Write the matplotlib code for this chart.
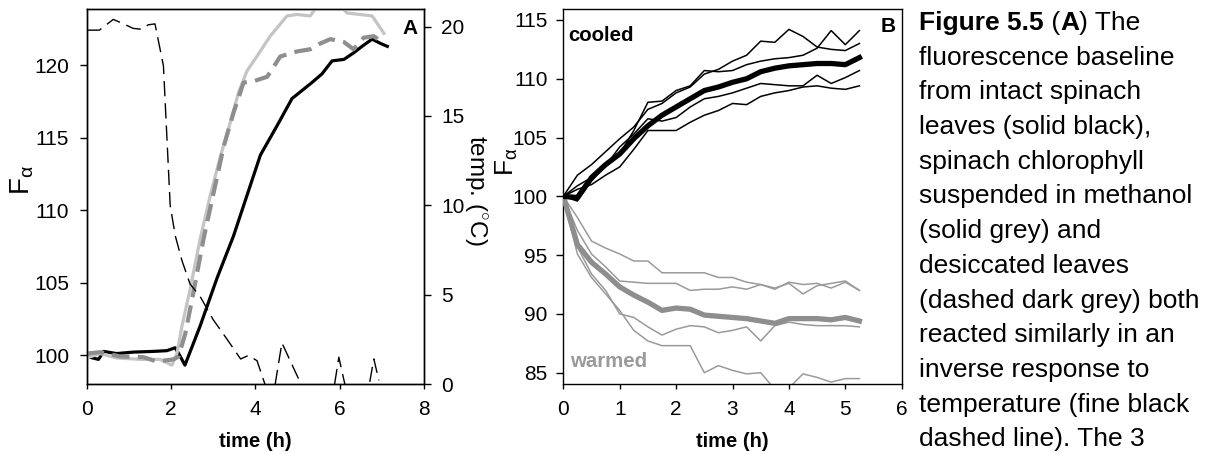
import matplotlib
matplotlib.use('Agg')
import matplotlib.pyplot as plt

plt.rcParams['font.family'] = ['Liberation Sans', 'DejaVu Sans']
plt.rcParams['mathtext.fontset'] = 'custom'
plt.rcParams['mathtext.rm'] = 'Liberation Sans'
plt.rcParams['mathtext.it'] = 'Liberation Sans:italic'
plt.rcParams['mathtext.bf'] = 'Liberation Sans:bold'

# ---------------- Panel A data ----------------
leaf_t = [0, 0.28, 0.4, 0.71, 1.1, 1.58, 1.9, 2.1, 2.22, 2.33, 2.69, 3.09, 3.48, 3.8,
          4.12, 4.51, 4.87, 5.34, 5.58, 5.82, 6.1, 6.33, 6.53, 6.77, 6.97, 7.13]
leaf_f = [99.9, 99.7, 100.25, 100.1, 100.2, 100.25, 100.3, 100.5, 99.9, 99.3, 102.0, 105.3,
          108.2, 111.0, 113.8, 115.8, 117.7, 118.8, 119.4, 120.3, 120.4, 120.85, 121.3,
          121.8, 121.5, 121.3]

meoh_t = [0, 0.32, 0.71, 1.27, 1.74, 2.02, 2.14, 2.26, 2.45, 2.69, 2.93, 3.17, 3.4, 3.6,
          3.8, 4.08, 4.35, 4.75, 4.99, 5.3, 5.6, 5.85, 6.18, 6.77, 7.05]
meoh_f = [99.8, 100.1, 99.8, 99.7, 99.7, 99.3, 100.1, 102.0, 104.5, 108.0, 111.0, 113.7,
          116.0, 118.1, 119.6, 120.8, 122.0, 123.4, 123.5, 123.4, 124.6, 124.5, 123.6,
          123.4, 122.2]

dry_t = [0, 0.32, 0.79, 1.35, 1.66, 2.06, 2.18, 2.34, 2.53, 2.77, 3.01, 3.25, 3.48, 3.72,
         3.96, 4.28, 4.59, 4.99, 5.3, 5.54, 5.78, 6.1, 6.33, 6.57, 6.81, 7.0]
dry_f = [100.1, 100.2, 99.9, 99.85, 99.55, 99.7, 99.9, 101.5, 104.3, 108.0, 111.2, 114.4,
         116.7, 118.8, 118.9, 119.2, 120.6, 120.95, 121.1, 121.5, 121.8, 121.6, 121.1,
         121.9, 122.0, 121.6]

temp_t = [0, 0.3, 0.63, 0.83, 1.1, 1.3, 1.46, 1.62, 1.82, 1.98, 2.1, 2.26, 2.45, 2.69,
          3.0, 3.33, 3.65, 3.84, 4.04, 4.24, 4.45, 4.63, 5.2, 5.86, 5.98, 6.15, 6.69,
          6.81, 6.93]
temp_c = [19.8, 19.8, 20.4, 20.2, 19.9, 19.85, 20.1, 20.15, 17.8, 10.0, 8.3, 6.9, 5.6,
          4.9, 3.6, 2.5, 1.4, 1.6, 1.3, -0.1, -0.3, 2.3, -0.6, -0.3, 1.5, -0.3, -0.2,
          1.4, 0.2]

# ---------------- Panel B data ----------------
b_t = [0, 0.25, 0.5, 0.75, 1, 1.25, 1.5, 1.75, 2, 2.25, 2.5, 2.75, 3, 3.25, 3.5, 3.75,
       4, 4.25, 4.5, 4.75, 5, 5.25]

cooled_1 = [100, 101.8, 102.7, 103.8, 104.9, 105.9, 107.4, 107.9, 108.8, 109.3, 110.4,
            110.8, 111.5, 112.0, 113.2, 113.1, 114.2, 113.6, 112.7, 112.5, 112.4, 113.0]
cooled_2 = [100, 100.9, 101.6, 102.6, 103.6, 105.6, 108.0, 108.1, 109.0, 109.4, 110.7,
            110.6, 110.7, 111.2, 111.5, 111.7, 111.8, 112.0, 112.6, 114.1, 112.9, 114.1]
cooled_3 = [100, 99.6, 101.3, 102.6, 104.2, 105.3, 106.6, 106.4, 106.7, 107.6, 108.3,
            108.5, 108.8, 109.2, 109.6, 109.5, 109.4, 109.4, 110.3, 109.6, 110.1, 110.7]
cooled_4 = [100, 100.6, 101.0, 101.8, 102.5, 104.0, 105.6, 105.6, 105.6, 106.3, 106.9,
            107.3, 107.9, 107.8, 108.5, 108.8, 109.0, 109.3, 109.4, 109.2, 109.1, 109.4]
cooled_mean = [100, 99.9, 101.6, 102.7, 103.6, 104.9, 106.0, 106.9, 107.6, 108.3, 109.0,
               109.3, 109.7, 110.0, 110.6, 110.9, 111.1, 111.2, 111.3, 111.3, 111.2, 111.8]

warmed_1 = [100, 98.2, 96.2, 95.6, 95.1, 94.5, 94.5, 93.5, 93.5, 93.5, 93.5, 93.1, 93.1,
            92.7, 92.5, 92.1, 92.7, 92.5, 92.6, 92.2, 92.7, 92.0]
warmed_2 = [100, 97.1, 95.1, 94.0, 92.8, 92.7, 92.6, 92.6, 92.6, 92.0, 92.1, 92.1, 92.3,
            92.1, 92.5, 92.2, 92.6, 91.7, 92.4, 92.6, 92.8, 92.0]
warmed_3 = [100, 95.7, 93.4, 92.0, 90.0, 89.7, 88.9, 88.2, 88.7, 89.0, 88.9, 88.4, 88.6,
            88.9, 87.7, 89.0, 89.3, 89.1, 89.0, 89.0, 89.0, 88.9]
warmed_4 = [100, 95.1, 93.1, 91.7, 90.3, 88.6, 87.7, 87.3, 87.3, 87.3, 85.0, 85.6, 85.2,
            84.9, 85.0, 83.6, 83.7, 84.9, 84.6, 84.2, 84.5, 84.5]
warmed_mean = [100, 95.9, 94.4, 93.4, 92.3, 91.6, 91.0, 90.3, 90.5, 90.4, 89.9, 89.8,
               89.7, 89.6, 89.4, 89.2, 89.6, 89.6, 89.6, 89.5, 89.7, 89.4]

a_xticks = [0, 2, 4, 6, 8]
a_yticks = [100, 105, 110, 115, 120]
a_y2ticks = [0, 5, 10, 15, 20]
b_xticks = [0, 1, 2, 3, 4, 5, 6]
b_yticks = [85, 90, 95, 100, 105, 110, 115]

caption_lines = [
    "fluorescence baseline",
    "from intact spinach",
    "leaves (solid black),",
    "spinach chlorophyll",
    "suspended in methanol",
    "(solid grey) and",
    "desiccated leaves",
    "(dashed dark grey) both",
    "reacted similarly in an",
    "inverse response to",
    "temperature (fine black",
    "dashed line). The 3",
]

# ---------------- Figure ----------------
W, H = 1216, 454
fig = plt.figure(figsize=(W / 100, H / 100), dpi=100)


def fx(px):
    return px / W


def fy(py):
    return 1 - py / H


def rect(l, t, r, b):
    return [fx(l), fy(b), fx(r) - fx(l), fy(t) - fy(b)]


TICK_FS = 15
LIGHT = '#c4c4c4'
MID = '#8e8e8e'
THIN_GREY = '#9a9a9a'

axA = fig.add_axes(rect(86.7, 8.7, 424, 384))
axA.plot(leaf_t, leaf_f, color='black', lw=2.3, zorder=3)
axA.plot(meoh_t, meoh_f, color=LIGHT, lw=2.3, zorder=4)
axA.plot(dry_t, dry_f, color=MID, lw=3.0, dashes=(4.2, 2.0), zorder=5)
axA.set_xlim(0, 8)
axA.set_ylim(98.0, 123.9)
axA.set_xticks(a_xticks)
axA.set_yticks(a_yticks)

axA2 = axA.twinx()
axA2.plot(temp_t, temp_c, color='black', lw=1.0, dashes=(11, 5))
axA2.set_ylim(0, 21)
axA2.set_yticks(a_y2ticks)

axB = fig.add_axes(rect(563.3, 8.7, 901.7, 384))
for s in (cooled_1, cooled_2, cooled_3, cooled_4):
    axB.plot(b_t, s, color='black', lw=1.1, zorder=4)
axB.plot(b_t, cooled_mean, color='black', lw=3.8, zorder=5)
for s in (warmed_1, warmed_2, warmed_3, warmed_4):
    axB.plot(b_t, s, color=THIN_GREY, lw=1.1, zorder=2)
axB.plot(b_t, warmed_mean, color=MID, lw=3.8, zorder=3)
axB.set_xlim(0, 6)
axB.set_ylim(84.04, 115.96)
axB.set_xticks(b_xticks)
axB.set_yticks(b_yticks)

for ax in (axA, axA2, axB):
    for sp in ax.spines.values():
        sp.set_linewidth(1.0)
    ax.tick_params(axis='x', direction='out', length=3.6, width=1.0,
                   labelsize=TICK_FS, pad=8)
    ax.tick_params(axis='y', direction='out', length=5.2, width=1.0,
                   labelsize=TICK_FS, pad=7.5)
axB.tick_params(axis='y', pad=6)
axA2.tick_params(axis='y', pad=7)

# labels
fig.text(fx(255.3), fy(447), 'time (h)', ha='center', va='baseline',
         fontsize=14.5, fontweight='bold')
fig.text(fx(732.5), fy(447), 'time (h)', ha='center', va='baseline',
         fontsize=14.5, fontweight='bold')
fig.text(fx(22), fy(180), r'F$_{\mathrm{\alpha}}$', rotation=90, ha='center',
         va='center', fontsize=20)
fig.text(fx(507), fy(162), r'F$_{\mathrm{\alpha}}$', rotation=90, ha='center',
         va='center', fontsize=19)
fig.text(fx(476), fy(190), r'temp. ($^{\circ}$C)', rotation=270, ha='center',
         va='center', fontsize=17.5)

fig.text(fx(410), fy(28), 'A', ha='center', va='center', fontsize=15,
         fontweight='bold')
fig.text(fx(888), fy(27), 'B', ha='center', va='center', fontsize=15,
         fontweight='bold')
fig.text(fx(568), fy(41), 'cooled', ha='left', va='baseline', fontsize=14.7,
         fontweight='bold', color='black')
fig.text(fx(570), fy(367), 'warmed', ha='left', va='baseline', fontsize=14.7,
         fontweight='bold', color=THIN_GREY)

# caption
CAP_FS = 19
x0 = 919
base0 = 30
step = 34.7
fig.canvas.draw()
renderer = fig.canvas.get_renderer()
xcur = x0
for txt, wt in (("Figure 5.5", 'bold'), (" (", 'normal'), ("A", 'bold'),
                (") The", 'normal')):
    t = fig.text(fx(xcur), fy(base0), txt, ha='left', va='baseline',
                 fontsize=CAP_FS, fontweight=wt)
    bb = t.get_window_extent(renderer=renderer)
    xcur += bb.width
for i, line in enumerate(caption_lines):
    fig.text(fx(x0), fy(base0 + step * (i + 1)), line, ha='left', va='baseline',
             fontsize=CAP_FS)

fig.savefig('out.png', dpi=100)
